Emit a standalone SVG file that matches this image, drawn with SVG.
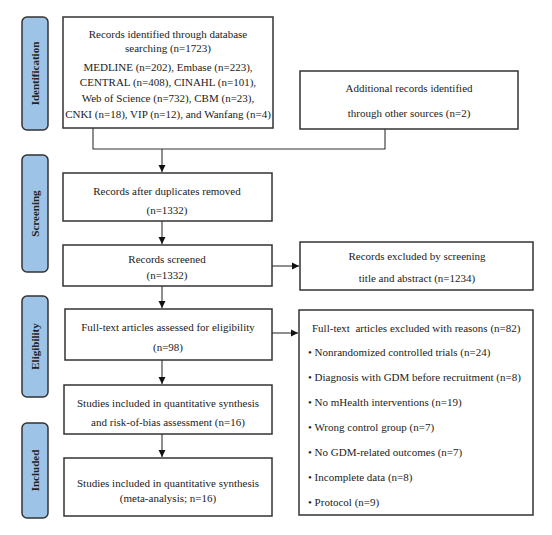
<svg xmlns="http://www.w3.org/2000/svg" width="552" height="535" viewBox="0 0 552 535">
<style>
.box{fill:#fff;stroke:#333;stroke-width:1.5}
.side{fill:#9dc3e6;stroke:#333;stroke-width:1.5}
.t{font-family:"Liberation Serif","Times New Roman",serif;font-size:11px;fill:#222}
.c{text-anchor:middle}
.lab{font-family:"Liberation Serif","Times New Roman",serif;font-size:11px;font-weight:bold;fill:#222;text-anchor:middle}
.ln{fill:none;stroke:#333;stroke-width:1.1}
</style>
<defs>
<marker id="ah" markerWidth="8" markerHeight="8" refX="7" refY="4" orient="auto" markerUnits="userSpaceOnUse">
<path d="M0,0.5 L7,4 L0,7.5 Z" fill="#111"/>
</marker>
</defs>
<rect width="552" height="535" fill="#fff"/>

<g id="stage-identification">
<rect class="side" x="22" y="17" width="26" height="113" rx="5"/>
<text class="lab" transform="translate(39,73.5) rotate(-90)">Identification</text>
</g>
<g id="stage-screening">
<rect class="side" x="22" y="155" width="26" height="117" rx="5"/>
<text class="lab" transform="translate(39,213.5) rotate(-90)">Screening</text>
</g>
<g id="stage-eligibility">
<rect class="side" x="22" y="296" width="26" height="101" rx="5"/>
<text class="lab" transform="translate(39,346.5) rotate(-90)">Eligibility</text>
</g>
<g id="stage-included">
<rect class="side" x="22" y="423" width="26" height="95" rx="5"/>
<text class="lab" transform="translate(39,470.5) rotate(-90)">Included</text>
</g>

<g id="connectors">
<path class="ln" d="M93,128 V149 H385 V129"/>
<path class="ln" d="M162,149 V172" marker-end="url(#ah)"/>
<path class="ln" d="M162,221 V244" marker-end="url(#ah)"/>
<path class="ln" d="M272,266 H299" marker-end="url(#ah)"/>
<path class="ln" d="M162,286 V308" marker-end="url(#ah)"/>
<path class="ln" d="M272,333 H298" marker-end="url(#ah)"/>
<path class="ln" d="M162,360 V384" marker-end="url(#ah)"/>
<path class="ln" d="M162,434 V457" marker-end="url(#ah)"/>
</g>

<g id="db-search">
<rect class="box" x="63" y="17" width="210" height="111"/>
<text class="t c" x="168" y="38">Records identified through database</text>
<text class="t c" x="168" y="52">searching (n=1723)</text>
<text class="t c" x="168" y="71">MEDLINE (n=202), Embase (n=223),</text>
<text class="t c" x="168" y="86">CENTRAL (n=408), CINAHL (n=101),</text>
<text class="t c" x="168" y="102">Web of Science (n=732), CBM (n=23),</text>
<text class="t c" x="168" y="118">CNKI (n=18), VIP (n=12), and Wanfang (n=4)</text>
</g>

<g id="other-sources">
<rect class="box" x="300" y="71" width="218" height="58"/>
<text class="t c" x="409" y="92">Additional records identified</text>
<text class="t c" x="409" y="117">through other sources (n=2)</text>
</g>

<g id="duplicates-removed">
<rect class="box" x="63" y="173" width="209" height="48"/>
<text class="t c" x="167" y="195">Records after duplicates removed</text>
<text class="t c" x="167" y="214">(n=1332)</text>
</g>

<g id="screened">
<rect class="box" x="63" y="245" width="209" height="41"/>
<text class="t c" x="167" y="263">Records screened</text>
<text class="t c" x="167" y="279">(n=1332)</text>
</g>

<g id="excluded-screening">
<rect class="box" x="300" y="242" width="233" height="48"/>
<text class="t c" x="417" y="260">Records excluded by screening</text>
<text class="t c" x="417" y="282">title and abstract (n=1234)</text>
</g>

<g id="fulltext-assessed">
<rect class="box" x="65" y="309" width="207" height="51"/>
<text class="t c" x="168" y="331">Full-text articles assessed for eligibility</text>
<text class="t c" x="168" y="351">(n=98)</text>
</g>

<g id="fulltext-excluded">
<rect class="box" x="299" y="310" width="234" height="205"/>
<text class="t" x="312" y="332" xml:space="preserve">Full-text  articles excluded with reasons (n=82)</text>
<text class="t" x="308" y="356">• Nonrandomized controlled trials (n=24)</text>
<text class="t" x="308" y="381">• Diagnosis with GDM before recruitment (n=8)</text>
<text class="t" x="308" y="406">• No mHealth interventions (n=19)</text>
<text class="t" x="308" y="431">• Wrong control group (n=7)</text>
<text class="t" x="308" y="456">• No GDM-related outcomes (n=7)</text>
<text class="t" x="308" y="481">• Incomplete data (n=8)</text>
<text class="t" x="308" y="506">• Protocol (n=9)</text>
</g>

<g id="qualitative">
<rect class="box" x="64" y="385" width="208" height="49"/>
<text class="t c" x="168" y="407">Studies included in quantitative synthesis</text>
<text class="t c" x="168" y="426">and risk-of-bias assessment (n=16)</text>
</g>

<g id="meta-analysis">
<rect class="box" x="64" y="458" width="208" height="58"/>
<text class="t c" x="168" y="487">Studies included in quantitative synthesis</text>
<text class="t c" x="168" y="502">(meta-analysis; n=16)</text>
</g>
</svg>
